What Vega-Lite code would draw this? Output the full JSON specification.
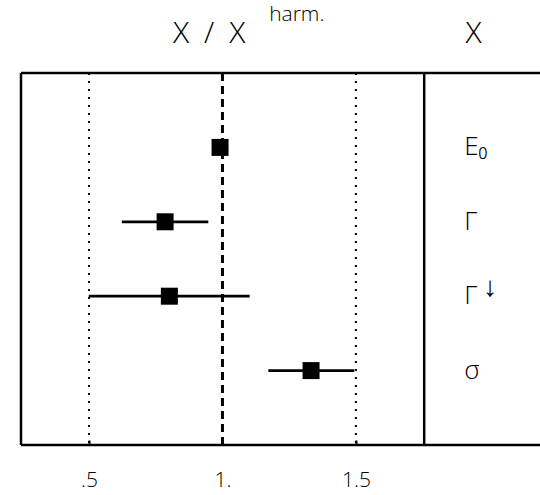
{
  "$schema": "https://vega.github.io/schema/vega-lite/v6.json",
  "width": 519,
  "height": 372,
  "autosize": "none",
  "padding": {"left": 21, "top": 73, "right": 0, "bottom": 50},
  "config": {"view": {"stroke": null}, "font": "Open Sans", "text": {"fontWeight": 300}},
  "datasets": {
    "pts": [
      {"param": "E₀", "row": 1, "ratio": 0.991, "lo": 0.991, "hi": 0.991},
      {"param": "Γ", "row": 2, "ratio": 0.785, "lo": 0.623, "hi": 0.947},
      {"param": "Γ", "row": 3, "ratio": 0.801, "lo": 0.499, "hi": 1.102},
      {"param": "σ", "row": 4, "ratio": 1.332, "lo": 1.172, "hi": 1.494}
    ],
    "refs": [{"v": 0.5}, {"v": 1.5}],
    "vframe": [{"v": 0.245}, {"v": 1.756}],
    "hframe": [{"r": 0}, {"r": 5}],
    "one": [{}]
  },
  "layer": [
    {
      "data": {"name": "refs"},
      "mark": {"type": "rule", "strokeDash": [2, 6], "strokeWidth": 2, "color": "black", "strokeCap": "butt"},
      "encoding": {
        "x": {"field": "v", "type": "quantitative",
          "scale": {"domain": [0.245, 2.19], "nice": false, "zero": false},
          "axis": {"values": [0.5, 1, 1.5], "labelExpr": "datum.value == 0.5 ? '.5' : datum.value == 1 ? '1.' : '1.5'",
            "grid": false, "domain": false, "ticks": true, "tickSize": -5, "tickWidth": 2, "tickColor": "black",
            "labelFontSize": 21, "labelFontWeight": 300, "labelColor": "black", "labelPadding": 29, "title": null, "labelFont": "Open Sans"}}
      }
    },
    {
      "data": {"values": [{"v": 1}]},
      "mark": {"type": "rule", "strokeDash": [8, 5], "strokeWidth": 3, "color": "black", "strokeCap": "butt"},
      "encoding": {"x": {"field": "v", "type": "quantitative"}}
    },
    {
      "data": {"name": "vframe"},
      "mark": {"type": "rule", "strokeWidth": 2.5, "color": "black"},
      "encoding": {"x": {"field": "v", "type": "quantitative"}}
    },
    {
      "data": {"name": "hframe"},
      "mark": {"type": "rule", "strokeWidth": 2.5, "color": "black"},
      "encoding": {"y": {"field": "r", "type": "quantitative", "scale": {"domain": [0, 5], "reverse": true, "nice": false}, "axis": null}}
    },
    {
      "data": {"name": "pts"},
      "mark": {"type": "rule", "strokeWidth": 2.7, "color": "black"},
      "encoding": {
        "x": {"field": "lo", "type": "quantitative"},
        "x2": {"field": "hi"},
        "y": {"field": "row", "type": "quantitative"}
      }
    },
    {
      "data": {"name": "pts"},
      "mark": {"type": "point", "shape": "square", "filled": true, "opacity": 1, "size": 289, "color": "black"},
      "encoding": {
        "x": {"field": "ratio", "type": "quantitative"},
        "y": {"field": "row", "type": "quantitative"}
      }
    },
    {
      "data": {"name": "pts"},
      "mark": {"type": "text", "align": "left", "baseline": "middle", "fontSize": 26, "color": "black"},
      "encoding": {
        "x": {"datum": 1.906, "type": "quantitative"},
        "y": {"field": "row", "type": "quantitative"},
        "text": {"field": "param"}
      }
    },
    {
      "data": {"name": "one"},
      "mark": {"type": "text", "align": "center", "baseline": "middle", "fontSize": 28, "color": "black", "dx": 26, "dy": -8},
      "encoding": {
        "x": {"datum": 1.906, "type": "quantitative"},
        "y": {"datum": 3, "type": "quantitative"},
        "text": {"value": "↓"}
      }
    },
    {
      "data": {"name": "one"},
      "mark": {"type": "text", "align": "center", "baseline": "middle", "fontSize": 30, "color": "black"},
      "encoding": {
        "x": {"datum": 0.95, "type": "quantitative"},
        "y": {"datum": -0.53, "type": "quantitative"},
        "text": {"value": "X\u2002/\u2002X"}
      }
    },
    {
      "data": {"name": "one"},
      "mark": {"type": "text", "align": "left", "baseline": "middle", "fontSize": 21, "color": "black"},
      "encoding": {
        "x": {"datum": 1.175, "type": "quantitative"},
        "y": {"datum": -0.78, "type": "quantitative"},
        "text": {"value": "harm."}
      }
    },
    {
      "data": {"name": "one"},
      "mark": {"type": "text", "align": "center", "baseline": "middle", "fontSize": 30, "color": "black"},
      "encoding": {
        "x": {"datum": 1.941, "type": "quantitative"},
        "y": {"datum": -0.53, "type": "quantitative"},
        "text": {"value": "X"}
      }
    }
  ]
}
